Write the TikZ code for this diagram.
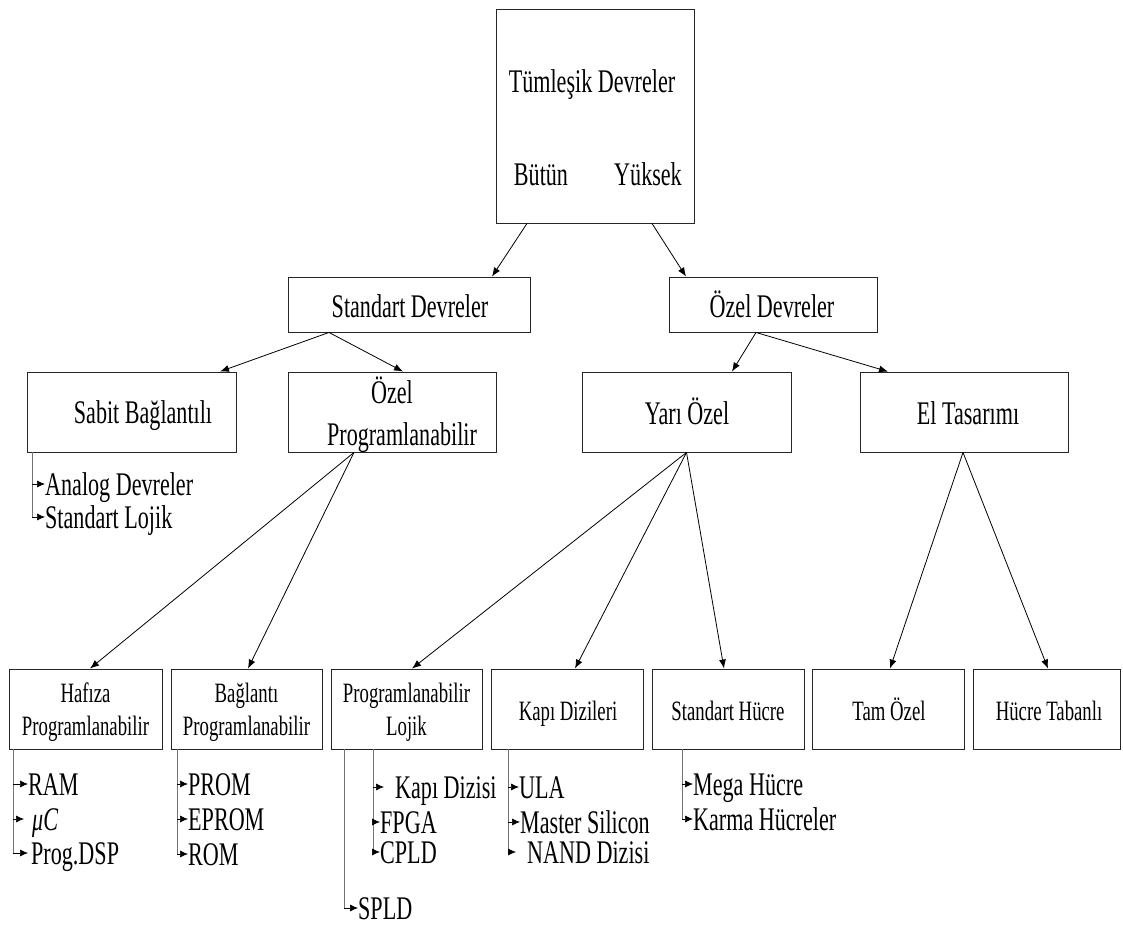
\documentclass[tikz,border=0pt]{standalone}
\usepackage{fontspec}
\setmainfont{Liberation Serif}[FakeStretch=0.67]
\usetikzlibrary{arrows.meta}
\newcommand{\bigtxt}{\fontsize{33}{38}\selectfont}
\newcommand{\smalltxt}{\fontsize{28}{33}\selectfont}

\begin{document}
\begin{tikzpicture}[x=1pt,y=-1pt,
  box/.style={draw=black!85, line width=0.9pt, inner sep=0pt},
  txt/.style={inner sep=0pt, anchor=base, font=\bigtxt},
  stxt/.style={inner sep=0pt, anchor=base, font=\smalltxt},
  conn/.style={draw=black, line width=0.8pt, -{Latex[length=9pt,width=7pt]}},
  trunk/.style={draw=black!55, line width=0.9pt},
  twig/.style={draw=black, line width=0.7pt, -{Latex[length=8pt,width=7pt]}},
  item/.style={inner sep=0pt, anchor=west, text height=22pt, text depth=0pt, font=\bigtxt},
]
\useasboundingbox (0,0) rectangle (1123,926);

% ---------- boxes ----------
\node[box, minimum width=198pt, minimum height=214pt] (ic)  at (595,116) {};
\node[box, minimum width=242pt, minimum height=55pt]  (std) at (409,304.5) {};
\node[box, minimum width=208pt, minimum height=55pt]  (ozd) at (773,304.5) {};

\node[box, minimum width=209pt, minimum height=80pt] (sabit) at (131.5,412) {};
\node[box, minimum width=208pt, minimum height=80pt] (ozp)   at (392,412) {};
\node[box, minimum width=209pt, minimum height=80pt] (yari)  at (686.5,412) {};
\node[box, minimum width=208pt, minimum height=80pt] (el)    at (964,412) {};

\node[box, minimum width=153pt, minimum height=80pt] (haf)  at (85.5,709) {};
\node[box, minimum width=151pt, minimum height=80pt] (bag)  at (246.5,709) {};
\node[box, minimum width=151pt, minimum height=80pt] (pl)   at (406.5,709) {};
\node[box, minimum width=152pt, minimum height=80pt] (kapi) at (567,709) {};
\node[box, minimum width=152pt, minimum height=80pt] (sh)   at (728,709) {};
\node[box, minimum width=152pt, minimum height=80pt] (tam)  at (888,709) {};
\node[box, minimum width=147pt, minimum height=80pt] (ht)   at (1046.5,709) {};

% ---------- box texts ----------
\node[txt] (ic-t)  at (592,92)  {Tümleşik Devreler};
\node[txt] (ic-b)  at (541,185) {Bütün};
\node[txt] (ic-y)  at (648,185) {Yüksek};
\node[txt] (std-t) at (410,317) {Standart Devreler};
\node[txt] (ozd-t) at (772,317) {Özel Devreler};
\node[txt] (sabit-t) at (143,423) {Sabit Bağlantılı};
\node[txt] (ozp-t1)  at (392,403) {Özel};
\node[txt] (ozp-t2)  at (402,445) {Programlanabilir};
\node[txt] (yari-t)  at (687,424) {Yarı Özel};
\node[txt] (el-t)    at (968,424) {El Tasarımı};

\node[stxt] (haf-t1) at (85.5,702)  {Hafıza};
\node[stxt] (haf-t2) at (85.5,735)  {Programlanabilir};
\node[stxt] (bag-t1) at (246.5,702) {Bağlantı};
\node[stxt] (bag-t2) at (246.5,735) {Programlanabilir};
\node[stxt] (pl-t1)  at (406.5,702) {Programlanabilir};
\node[stxt] (pl-t2)  at (406.5,735) {Lojik};
\node[stxt] (kapi-t) at (568,720)   {Kapı Dizileri};
\node[stxt] (sh-t)   at (728,720)   {Standart Hücre};
\node[stxt] (tam-t)  at (889,720)   {Tam Özel};
\node[stxt] (ht-t)   at (1049,720)  {Hücre Tabanlı};

% ---------- tree connectors ----------
\draw[conn] ([xshift=-68pt]ic.south) -- ([xshift=83pt]std.north);
\draw[conn] ([xshift=57pt]ic.south)  -- ([xshift=-87pt]ozd.north);

\draw[conn] ([xshift=-80pt]std.south) -- ([xshift=88.5pt]sabit.north);
\draw[conn] ([xshift=-80pt]std.south) -- ([xshift=11pt]ozp.north);

\draw[conn] ([xshift=-17pt]ozd.south) -- ([xshift=45.5pt]yari.north);
\draw[conn] ([xshift=-17pt]ozd.south) -- ([xshift=-76pt]el.north);

\draw[conn] ([xshift=-38pt]ozp.south) -- ([xshift=4.5pt]haf.north);
\draw[conn] ([xshift=-38pt]ozp.south) -- ([xshift=1.5pt]bag.north);

\draw[conn] (yari.south) -- ([xshift=5.5pt]pl.north);
\draw[conn] (yari.south) -- ([xshift=8pt]kapi.north);
\draw[conn] (yari.south) -- ([xshift=-4pt]sh.north);

\draw[conn] ([xshift=-1pt]el.south) -- ([xshift=2pt]tam.north);
\draw[conn] ([xshift=-1pt]el.south) -- ([xshift=1.5pt]ht.north);

% ---------- item lists ----------
\node[item] (an)    at (45,484)  {Analog Devreler};
\node[item] (sl)    at (45,517)  {Standart Lojik};

\node[item] (ram)   at (28,784)  {RAM};
\node[item] (mu)    at (32,819)  {\itshape μC};
\node[item] (dsp)   at (31,853)  {Prog.DSP};

\node[item] (prom)  at (188,784) {PROM};
\node[item] (eprom) at (188,819) {EPROM};
\node[item] (rom)   at (188,854) {ROM};

\node[item] (kd)    at (395,787) {Kapı Dizisi};
\node[item] (fpga)  at (380,822) {FPGA};
\node[item] (cpld)  at (380,852) {CPLD};
\node[item] (spld)  at (358,908) {SPLD};

\node[item] (ula)   at (519,787) {ULA};
\node[item] (ms)    at (520,822) {Master Silicon};
\node[item] (nand)  at (527,852) {NAND Dizisi};

\node[item] (mega)  at (693,784) {Mega Hücre};
\node[item] (karma) at (693,819) {Karma Hücreler};

% trunk roots under the boxes
\coordinate (sabitR) at ([xshift=-99.5pt]sabit.south);
\coordinate (hafR)   at ([xshift=-72.5pt]haf.south);
\coordinate (bagR)   at ([xshift=-69.5pt]bag.south);
\coordinate (plO)    at ([xshift=-62.5pt]pl.south);
\coordinate (plI)    at ([xshift=-33.5pt]pl.south);
\coordinate (kapiR)  at ([xshift=-59pt]kapi.south);
\coordinate (shR)    at ([xshift=-46pt]sh.south);

% trunks
\draw[trunk] (sabitR) -- (sabitR |- sl.west);
\draw[trunk] (hafR)   -- (hafR |- dsp.west);
\draw[trunk] (bagR)   -- (bagR |- rom.west);
\draw[trunk] (plO)    -- (plO |- spld.west);
\draw[trunk] (plI)    -- (plI |- cpld.west);
\draw[trunk] (kapiR)  -- (kapiR |- nand.west);
\draw[trunk] (shR)    -- (shR |- karma.west);

% twigs
\draw[twig] (sabitR |- an.west) -- (an.west);
\draw[twig] (sabitR |- sl.west) -- (sl.west);
\draw[twig] (hafR |- ram.west) -- (ram.west);
\draw[twig, shorten >=8pt] (hafR |- mu.west) -- (mu.west);
\draw[twig, shorten >=3pt] (hafR |- dsp.west) -- (dsp.west);
\draw[twig] (bagR |- prom.west) -- (prom.west);
\draw[twig] (bagR |- eprom.west) -- (eprom.west);
\draw[twig] (bagR |- rom.west) -- (rom.west);
\draw[twig, shorten >=11pt] (plI |- kd.west) -- (kd.west);
\draw[twig] (plI |- fpga.west) -- (fpga.west);
\draw[twig] (plI |- cpld.west) -- (cpld.west);
\draw[twig] (plO |- spld.west) -- (spld.west);
\draw[twig] (kapiR |- ula.west) -- (ula.west);
\draw[twig] (kapiR |- ms.west) -- (ms.west);
\draw[twig, shorten >=11pt] (kapiR |- nand.west) -- (nand.west);
\draw[twig] (shR |- mega.west) -- (mega.west);
\draw[twig] (shR |- karma.west) -- (karma.west);
\end{tikzpicture}
\end{document}
